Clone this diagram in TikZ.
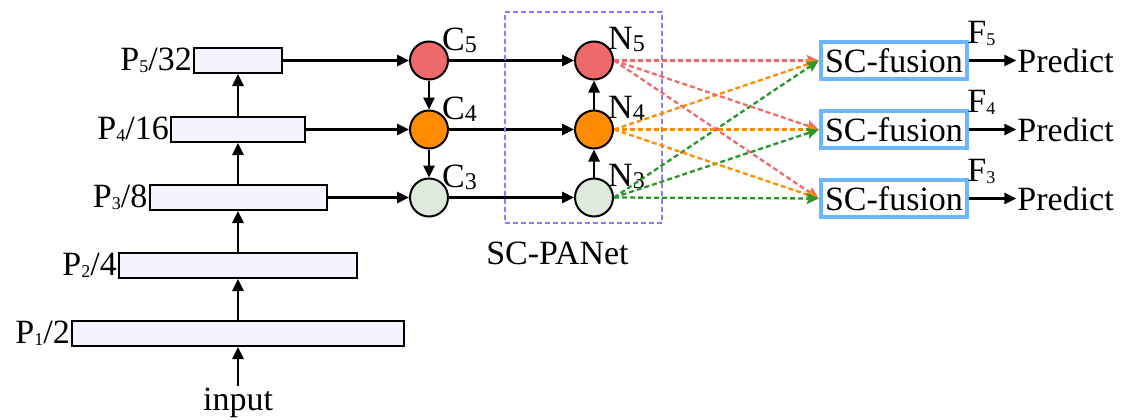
\documentclass[tikz,border=0pt]{standalone}
\usepackage{fontspec}
\setmainfont{Liberation Serif}
\usetikzlibrary{arrows.meta,calc,positioning}
\definecolor{layerfill}{HTML}{F3F4FD}
\definecolor{topred}{HTML}{EE6A6A}
\definecolor{midorange}{HTML}{FF8C00}
\definecolor{lowgreen}{HTML}{DEEBDC}
\definecolor{dashgreen}{HTML}{2A952A}
\definecolor{panetblue}{HTML}{8A7CFF}
\definecolor{fusionblue}{HTML}{6CB6FF}
\newcommand{\idx}[2][18]{\raisebox{-2pt}{\fontsize{#1}{#1}\selectfont #2}}
\tikzset{
    mylayer/.style={draw=black,fill=layerfill,line width=2pt,minimum height=25pt,inner sep=0pt},
    mycircle/.style={circle,draw=black,line width=2pt,minimum size=38pt,inner sep=0pt},
    myfusion/.style={draw=fusionblue,line width=4.5pt,minimum width=146pt,minimum height=37pt,inner sep=1pt},
    myarrow/.style={line width=2.5pt,-{Triangle[length=12pt,width=11pt]}},
    mydash/.style={line width=2.3pt,dash pattern=on 5pt off 3pt,-{Stealth[length=12pt,width=11pt,inset=2pt]}},
    every node/.style={font=\fontsize{34}{38}\selectfont}
}
\begin{document}
\begin{tikzpicture}[x=1pt,y=-1pt]
  \useasboundingbox (0,0) rectangle (1121,420);

  % backbone
  \node[mylayer,minimum width=88pt]  (p5) at (238,60.5)  {};
  \node[mylayer,minimum width=134pt] (p4) at (238,129.5) {};
  \node[mylayer,minimum width=177pt] (p3) at (238,197.5) {};
  \node[mylayer,minimum width=238pt] (p2) at (238,265.5) {};
  \node[mylayer,minimum width=332pt] (p1) at (238,333.5) {};
  \node[anchor=base,inner sep=1pt] (inp) at (238,410) {input};

  \node[left=0pt of p5,inner sep=1pt] {P\idx{5}/32};
  \node[left=0pt of p4,inner sep=1pt] {P\idx{4}/16};
  \node[left=0pt of p3,inner sep=1pt] {P\idx{3}/8};
  \node[left=0pt of p2,inner sep=1pt] {P\idx{2}/4};
  \node[left=0pt of p1,inner sep=1pt] {P\idx{1}/2};

  \draw[myarrow] (inp) -- (p1);
  \draw[myarrow] (p1) -- (p2);
  \draw[myarrow] (p2) -- (p3);
  \draw[myarrow] (p3) -- (p4);
  \draw[myarrow] (p4) -- (p5);

  % neck: C and N levels
  \foreach \i/\y/\col in {5/60.5/topred,4/129.5/midorange,3/197.5/lowgreen}{
    \node[mycircle,fill=\col] (c\i) at (429,\y) {};
    \node[mycircle,fill=\col] (n\i) at (594,\y) {};
    \node[anchor=base west,inner sep=0pt] at ($(c\i)+(13,-10)$) {C\idx[24]{\i}};
    \node[anchor=base west,inner sep=0pt] at ($(n\i)+(14,-11)$) {N\idx[24]{\i}};
    \draw[myarrow] (p\i) -- (c\i);
    \draw[myarrow] (c\i) -- (n\i);
  }
  \draw[myarrow] (c5) -- (c4);
  \draw[myarrow] (c4) -- (c3);
  \draw[myarrow] (n3) -- (n4);
  \draw[myarrow] (n4) -- (n5);

  \node[draw=panetblue,line width=2.2pt,dash pattern=on 5pt off 3pt,
        minimum width=157pt,minimum height=211pt] (panet) at (583.5,117.5) {};
  \node[below=14pt of panet,xshift=-26pt] {SC-PANet};

  % heads
  \foreach \i/\y in {5/60.5,4/129.5,3/198.5}{
    \node[myfusion] (f\i) at (894,\y) {SC-fusion};
    \node[anchor=base west,inner sep=0pt] at ($(f\i.north east)+(-2,4)$) {F\idx{\i}};
    \node[inner sep=1pt,right=47pt of f\i] (out\i) {Predict};
    \draw[myarrow] (f\i) -- (out\i);
  }

  % cross-scale links
  \foreach \j in {5,4,3}{
    \draw[mydash,topred]     (n5.east) -- (f\j.west);
    \draw[mydash,midorange]  (n4.east) -- (f\j.west);
    \draw[mydash,dashgreen]  (n3.east) -- (f\j.west);
  }

\end{tikzpicture}
\end{document}
